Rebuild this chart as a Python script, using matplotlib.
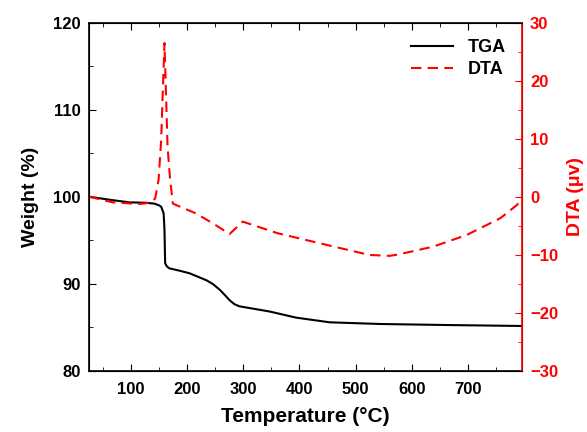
import matplotlib
matplotlib.use("Agg")
import matplotlib.pyplot as plt
from matplotlib.ticker import MultipleLocator

plt.rcParams['font.family'] = ['Liberation Sans', 'DejaVu Sans']
plt.rcParams['font.weight'] = 'bold'

# TGA curve
tga_temp = [25, 67, 97, 127, 141.6, 150, 153.5, 158, 159.5, 160.7, 163.6, 168,
            186, 204, 234, 246, 258, 267, 275.5, 284, 293, 320, 347, 394, 454,
            543, 662, 796]
tga_weight = [100.0, 99.6, 99.35, 99.3, 99.2, 99.0, 98.85, 98.1, 96.2, 92.35,
              92.0, 91.77, 91.5, 91.2, 90.4, 89.95, 89.3, 88.7, 88.1, 87.65,
              87.4, 87.1, 86.8, 86.1, 85.56, 85.37, 85.25, 85.14]

# DTA curve
dta_temp = [25, 67, 115, 136, 143, 149, 153.6, 156, 159.5, 162.5, 165, 169.6,
            174.5, 215, 245.7, 275.5, 299, 361, 448, 525, 561, 579, 638.7, 698,
            758, 787.5, 796]
dta_signal = [0.0, -0.97, -1.26, -1.03, -0.28, 2.9, 9.8, 16.7, 26.5, 16.7, 8.6,
              2.9, -1.2, -2.86, -4.6, -6.43, -4.3, -6.3, -8.3, -10.05, -10.2,
              -9.9, -8.6, -6.6, -3.7, -1.43, -0.3]

fig = plt.figure(figsize=(5.87, 4.32), dpi=100)
ax = fig.add_axes([0.1516, 0.1419, 0.7372, 0.8056])
ax2 = ax.twinx()

l1, = ax.plot(tga_temp, tga_weight, color='black', lw=1.5, label='TGA')
l2, = ax2.plot(dta_temp, dta_signal, color='red', lw=1.5, ls=(0, (5, 3)), label='DTA')

ax.set_xlim(25, 796)
ax.set_ylim(80, 120)
ax2.set_ylim(-30, 30)

ax.xaxis.set_major_locator(MultipleLocator(100))
ax.xaxis.set_minor_locator(MultipleLocator(50))
ax.yaxis.set_major_locator(MultipleLocator(10))
ax.yaxis.set_minor_locator(MultipleLocator(5))
ax2.yaxis.set_major_locator(MultipleLocator(10))
ax2.yaxis.set_minor_locator(MultipleLocator(5))

ax.tick_params(axis='both', which='both', direction='in', top=True, labelsize=12)
ax.tick_params(which='major', length=5)
ax.tick_params(which='minor', length=3)
ax.tick_params(axis='x', pad=8)
ax.tick_params(axis='y', right=False, pad=6)
ax2.tick_params(axis='y', which='both', direction='in', colors='red', labelsize=12)
ax2.tick_params(which='major', length=5, pad=6)
ax2.tick_params(which='minor', length=3)

ax2.spines['right'].set_color('red')
ax2.spines['right'].set_linewidth(1.2)
for s in ['left', 'top', 'bottom']:
    ax.spines[s].set_linewidth(1.2)

ax.set_xlabel('Temperature (\u00b0C)', fontsize=15, fontweight='bold', labelpad=7)
ax.set_ylabel('Weight (%)', fontsize=14, fontweight='bold', labelpad=10)
ax2.set_ylabel('DTA (\u03bcv)', fontsize=14, fontweight='bold', color='red', labelpad=6)

ax.legend([l1, l2], ['TGA', 'DTA'], loc='upper right', frameon=False,
          prop={'size': 13, 'weight': 'bold'}, handlelength=2.3, labelspacing=0.3)

fig.canvas.draw()
for lab in ax.get_xticklabels() + ax.get_yticklabels() + ax2.get_yticklabels():
    lab.set_fontweight('bold')

fig.savefig('out.png', dpi=100)
